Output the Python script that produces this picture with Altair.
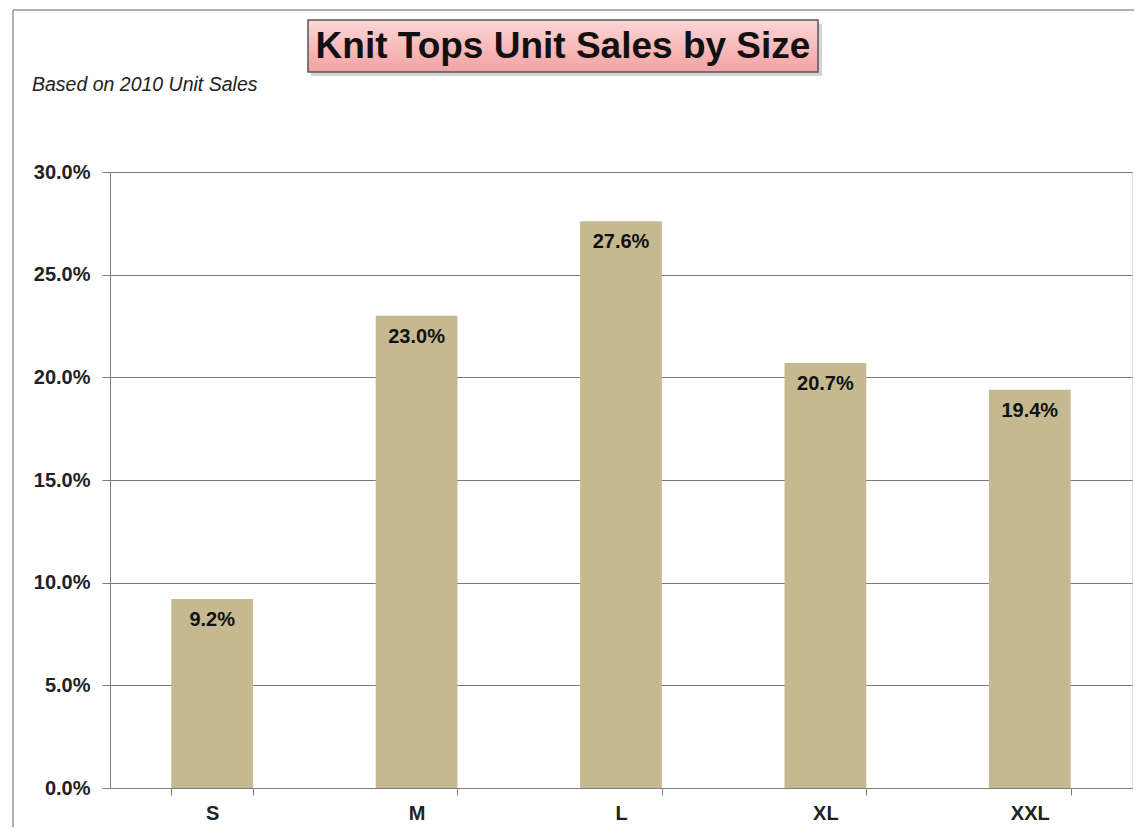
import altair as alt
import pandas as pd

sizes = ["S", "M", "L", "XL", "XXL"]
shares = [0.092, 0.230, 0.276, 0.207, 0.194]
title_text = ["Knit Tops Unit Sales by Size"]
subtitle_text = ["Based on 2010 Unit Sales"]
y_ticks = [0.0, 0.05, 0.10, 0.15, 0.20, 0.25, 0.30]

df = pd.DataFrame({"size": sizes, "share": shares})
tdf = pd.DataFrame({"t": title_text})
sdf = pd.DataFrame({"t": subtitle_text})

FONT = "Liberation Sans"
BAR = "#c5b992"

x_enc = alt.X(
    "size:N", sort=sizes, title=None,
    scale=alt.Scale(paddingInner=0.6, paddingOuter=0.3),
    axis=alt.Axis(labelAngle=0, labelFont=FONT, labelFontSize=20, labelFontWeight="bold",
                  labelColor="#222", labelPadding=8, domainColor="#808080", tickColor="#808080",
                  tickBand="extent", tickSize=7, grid=False),
)
y_enc = alt.Y(
    "share:Q", title=None,
    scale=alt.Scale(domain=[0, 0.30], nice=False),
    axis=alt.Axis(values=y_ticks, format=".1%", labelFont=FONT, labelFontSize=20,
                  labelFontWeight="bold", labelColor="#222", labelPadding=12,
                  domainColor="#808080", tickColor="#808080", tickSize=8,
                  grid=True, gridColor="#7a7a7a", gridWidth=1),
)

bars = alt.Chart(df).mark_bar(color=BAR).encode(x=x_enc, y=y_enc)
labels = alt.Chart(df).mark_text(
    font=FONT, fontSize=20, fontWeight="bold", color="#111", dy=21, baseline="middle"
).encode(x=alt.X("size:N", sort=sizes), y="share:Q", text=alt.Text("share:Q", format=".1%"))

# decorative frame lines
frame_left = alt.Chart(tdf).mark_rule(color="#999", strokeWidth=1.5).encode(
    x=alt.value(-97), y=alt.value(-162), y2=alt.value(660))
frame_top = alt.Chart(tdf).mark_rule(color="#999", strokeWidth=1.5).encode(
    x=alt.value(-97), x2=alt.value(1030), y=alt.value(-162))

shadow = alt.Chart(tdf).mark_rect(color="#888", opacity=0.35).encode(
    x=alt.value(201), x2=alt.value(712), y=alt.value(-148), y2=alt.value(-96))
title_box = alt.Chart(tdf).mark_rect(
    fill=alt.Gradient(gradient="linear", x1=0, x2=0, y1=0, y2=1,
                      stops=[alt.GradientStop(color="#fcd6d6", offset=0),
                             alt.GradientStop(color="#f3a2a2", offset=1)]),
    stroke="#555", strokeWidth=1.5,
).encode(x=alt.value(198), x2=alt.value(708), y=alt.value(-152), y2=alt.value(-100))
title = alt.Chart(tdf).mark_text(
    font=FONT, fontSize=37, fontWeight="bold", color="#111", align="center", baseline="middle"
).encode(x=alt.value(453), y=alt.value(-125), text="t:N")
subtitle = alt.Chart(sdf).mark_text(
    font=FONT, fontSize=19.5, fontStyle="italic", color="#222", align="left", baseline="middle"
).encode(x=alt.value(-78), y=alt.value(-87), text="t:N")

chart = alt.layer(frame_left, frame_top, bars, labels, shadow, title_box, title, subtitle).properties(
    width=1022, height=616,
    autosize=alt.AutoSizeParams(type="none"),
    padding={"left": 102, "top": 164, "right": 2, "bottom": 39},
).configure_view(stroke=None).configure(background="white")

chart.save("out.html", embed_options={"renderer": "svg", "actions": False})
